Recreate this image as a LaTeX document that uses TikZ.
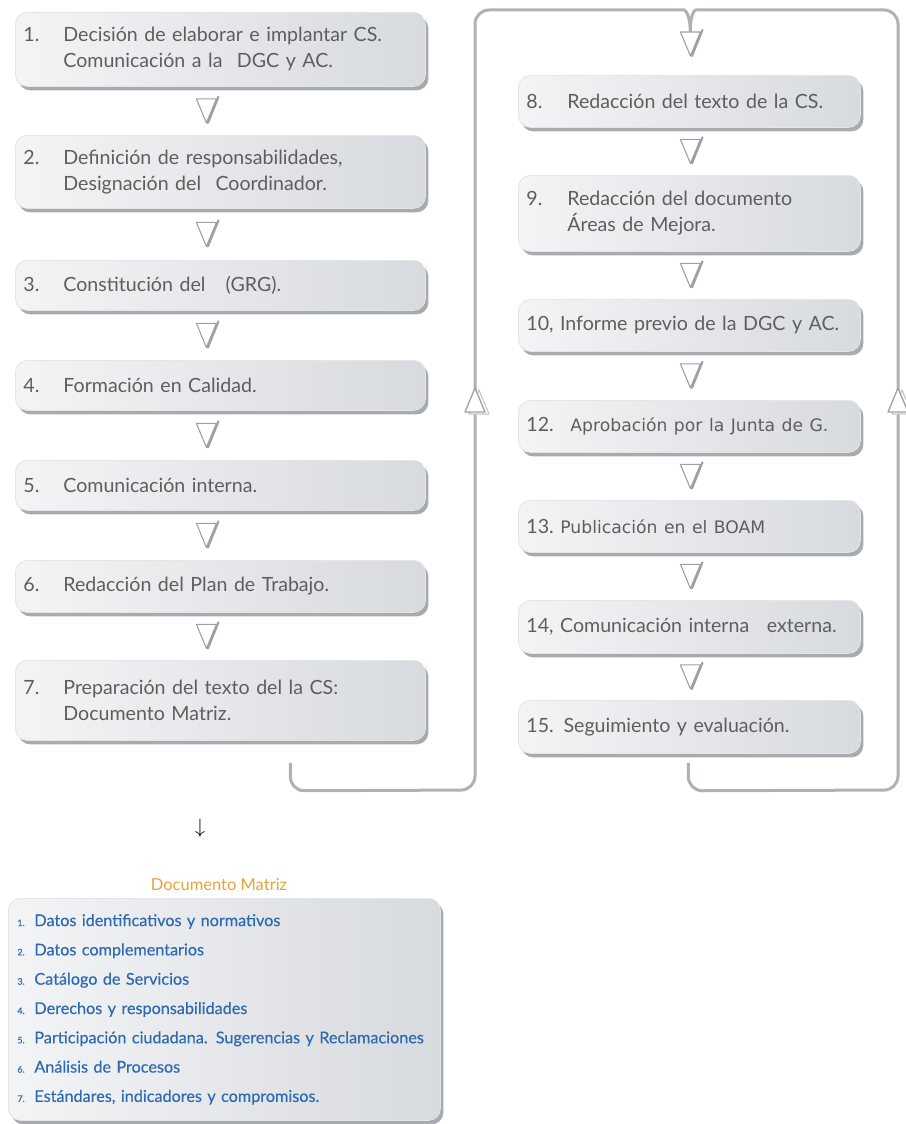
\documentclass[tikz,border=0pt]{standalone}
\usepackage{fontspec}
\setmainfont{Lato}
\newfontfamily\verd{DejaVu Sans}
\newfontfamily\latomed[FakeBold=0.35]{Lato}
\usetikzlibrary{calc,shadows}

\definecolor{txt}{HTML}{5C5E60}
\definecolor{boxL}{HTML}{F3F4F6}
\definecolor{boxR}{HTML}{D7DADE}
\definecolor{shade}{HTML}{A7ABB0}
\definecolor{loopc}{HTML}{AEB2B6}
\definecolor{tric}{HTML}{9DA1A6}
\definecolor{orangeT}{HTML}{E8A23A}
\definecolor{blueT}{HTML}{2E6AB1}

\newcommand{\nb}[2][40pt]{\makebox[#1][l]{#2}}
\newcommand{\itemnum}[1]{\nb[17pt]{\fontsize{9}{9}\selectfont #1}}

\tikzset{
  stepbox/.style={rounded corners=12pt, left color=boxL, right color=boxR,
    draw=white!80!gray, line width=0.8pt, text=txt, anchor=north west,
    font=\fontsize{19.6}{26}\selectfont, align=left, inner xsep=8pt,
    drop shadow={shadow xshift=3pt, shadow yshift=-4pt, fill=shade, opacity=1}},
  leftbox/.style={stepbox, minimum width=410pt, text width=394pt},
  rightbox/.style={stepbox, minimum width=342pt, text width=326pt},
  loopline/.style={draw=loopc, line width=3pt, rounded corners=14pt},
  downtri/.pic={
    \draw[tric, line width=1.1pt, line join=round, fill=white]
      (-10,-12) -- (10,-12) -- (0,12) -- cycle;
    \draw[tric, line width=2.2pt, line cap=round] (12,-14) -- (1.5,12);
  },
  uptri/.pic={
    \draw[tric!60, line width=1.1pt, line join=round, fill=white]
      (-6,14) -- (14,14) -- (4,-10) -- cycle;
    \draw[tric, line width=1.3pt, line join=round, fill=white]
      (-10,12) -- (10,12) -- (0,-12) -- cycle;
  },
}

\begin{document}
\begin{tikzpicture}[x=1pt, y=-1pt]
\useasboundingbox (0,0) rectangle (905,1124);

% left column of steps
\node[leftbox, minimum height=74pt] (b1) at (15,12)
  {\nb{1.}Decisión de elaborar e implantar CS.\\\hspace*{40pt}Comunicación a la\hspace{0.4em} DGC y AC.};
\node[leftbox, minimum height=73pt] (b2) at (15,135)
  {\nb{2.}Definición de responsabilidades,\\\hspace*{40pt}Designación del\hspace{0.4em} Coordinador.};
\node[leftbox, minimum height=50pt] (b3) at (15,260)
  {\nb{3.}Constitución del\hspace{0.7em} (GRG).};
\node[leftbox, minimum height=50pt] (b4) at (15,360)
  {\nb{4.}Formación en Calidad.};
\node[leftbox, minimum height=50pt] (b5) at (15,460)
  {\nb{5.}Comunicación interna.};
\node[leftbox, minimum height=52pt] (b6) at (15,560)
  {\nb{6.}Redacción del Plan de Trabajo.};
\node[leftbox, minimum height=80pt] (b7) at (15,660)
  {\nb{7.}Preparación del texto del la CS:\\\hspace*{40pt}Documento Matriz.};

% right column of steps
\node[rightbox, minimum height=52pt] (b8) at (518,75)
  {\nb[41pt]{8.}Redacción del texto de la CS.};
\node[rightbox, minimum height=76pt] (b9) at (518,175)
  {\nb[41pt]{9.}Redacción del documento\\\hspace*{41pt}Áreas de Mejora.};
\node[rightbox, minimum height=52pt] (b10) at (518,299)
  {10, Informe previo de la DGC y AC.};
\node[rightbox, minimum height=52pt] (b12) at (518,400)
  {\nb[44pt]{12.}{\verd\fontsize{17.2}{20}\selectfont Aprobación por la Junta de G.}};
\node[rightbox, minimum height=52pt] (b13) at (518,500)
  {\nb[34pt]{13.}{\verd\fontsize{17.2}{20}\selectfont Publicación en el BOAM}};
\node[rightbox, minimum height=53pt] (b14) at (518,600)
  {14, Comunicación interna\hspace{0.9em}externa.};
\node[rightbox, minimum height=53pt] (b15) at (518,700)
  {15. Seguimiento y evaluación.};

% return loops into step 8
\coordinate (in8) at ($(b8.north)+(1,-43)$);
\draw[loopline] ($(b7.south)+(70,22)$) -- ++(0,28) -- (475,790) -- (475,10)
  -- (670,10) .. controls (686,10) and (690,16) .. (in8);
\draw[loopline] ($(b15.south)+(-1,9)$) -- ++(0,28) -- (898,790) -- (898,10)
  -- (710,10) .. controls (694,10) and (690,16) .. (in8);
\pic at (475,400) {uptri};
\pic at (898,400) {uptri};

% arrowheads between consecutive steps
\pic at ($(b1.south)!0.5!(b2.north)+(-14,0)$) {downtri};
\pic at ($(b2.south)!0.5!(b3.north)+(-14,0)$) {downtri};
\pic at ($(b3.south)!0.5!(b4.north)+(-14,0)$) {downtri};
\pic at ($(b4.south)!0.5!(b5.north)+(-14,0)$) {downtri};
\pic at ($(b5.south)!0.5!(b6.north)+(-14,0)$) {downtri};
\pic at ($(b6.south)!0.5!(b7.north)+(-14,0)$) {downtri};
\pic at ($(b8.north)+(1,-31)$) {downtri};
\pic at ($(b8.south)!0.5!(b9.north)+(1,0)$) {downtri};
\pic at ($(b9.south)!0.5!(b10.north)+(1,0)$) {downtri};
\pic at ($(b10.south)!0.5!(b12.north)+(1,0)$) {downtri};
\pic at ($(b12.south)!0.5!(b13.north)+(1,0)$) {downtri};
\pic at ($(b13.south)!0.5!(b14.north)+(1,0)$) {downtri};
\pic at ($(b14.south)!0.5!(b15.north)+(1,0)$) {downtri};

% arrow down to the detail of the Documento Matriz
\node[font=\fontsize{20}{20}\selectfont] (down) at (200,828) {$\downarrow$};

% Documento Matriz contents
\node[text=orangeT, font=\fontsize{16.5}{18}\selectfont] (dmt) at (219,885) {Documento Matriz};
\node[stepbox, minimum width=432pt, minimum height=222pt, text width=414pt,
      inner xsep=9pt, text=blueT, font=\latomed\fontsize{16.2}{29.3}\selectfont] (dm) at (8,898)
  {\itemnum{1.}Datos identificativos y normativos\\
   \itemnum{2.}Datos complementarios\\
   \itemnum{3.}Catálogo de Servicios\\
   \itemnum{4.}Derechos y responsabilidades\\
   \itemnum{5.}Participación ciudadana. Sugerencias y Reclamaciones\\
   \itemnum{6.}Análisis de Procesos\\
   \itemnum{7.}Estándares, indicadores y compromisos.};
\end{tikzpicture}
\end{document}
